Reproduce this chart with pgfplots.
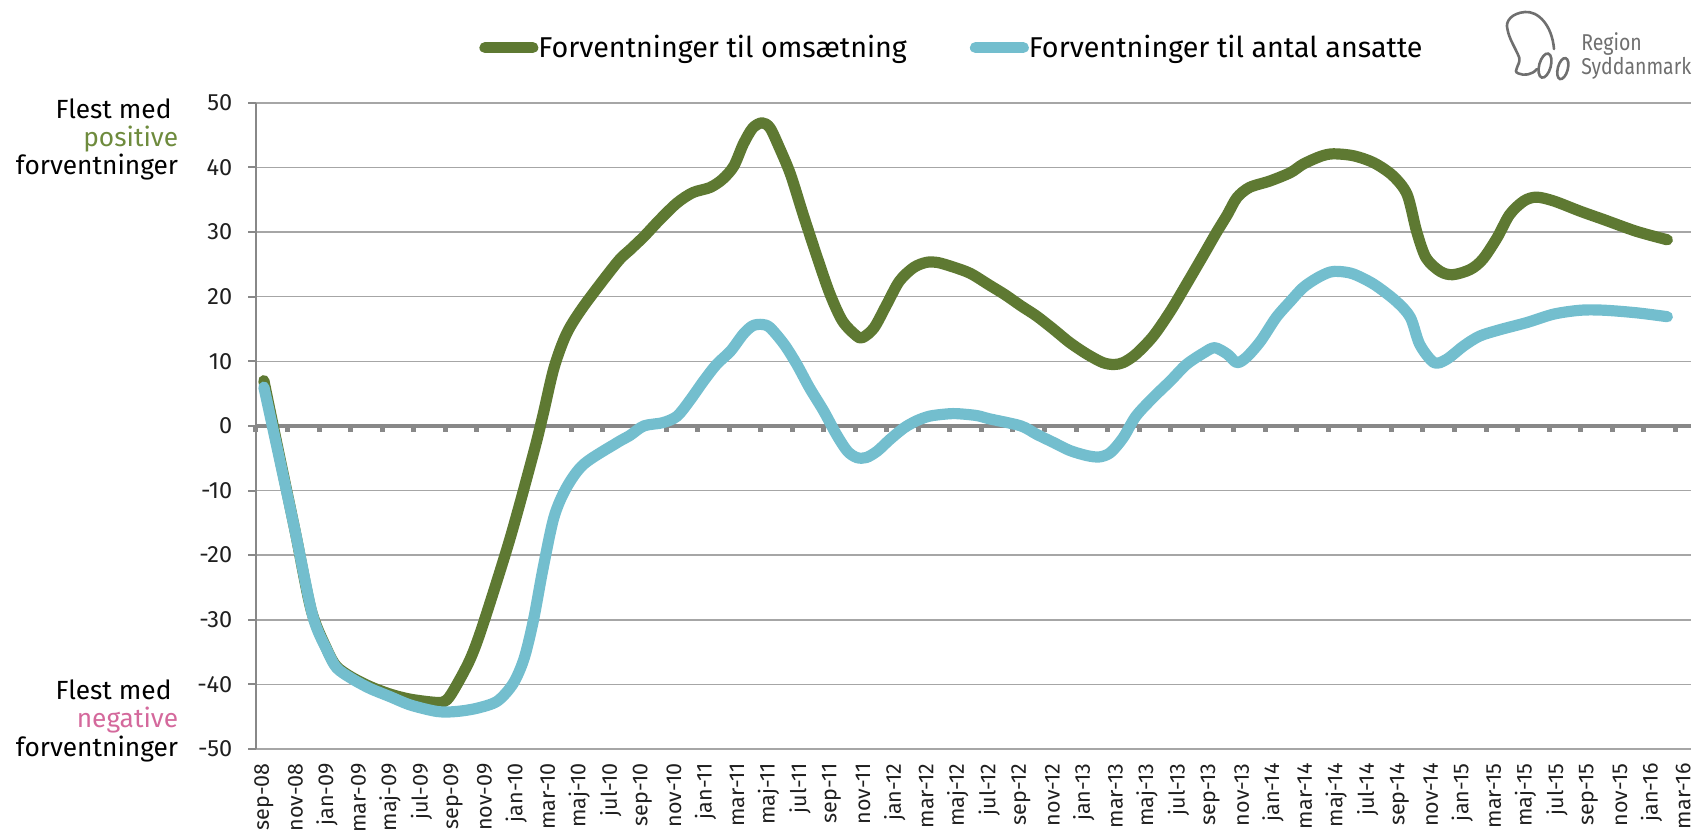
\documentclass[border=0pt]{standalone}
\usepackage{pgfplots}
\pgfplotsset{compat=1.18}
\usepackage{pgfplotstable}
\usepackage{fontspec}
\setmainfont{Fira Sans}
\newfontfamily\logofont{Fira Sans}[FakeStretch=0.85]

\definecolor{omsgreen}{HTML}{5E7932}
\definecolor{ansblue}{HTML}{73BECE}
\definecolor{gridgray}{HTML}{A6A6A6}
\definecolor{axisgray}{HTML}{888888}
\definecolor{posgreen}{HTML}{6E8B3D}
\definecolor{negpink}{HTML}{D4699C}
\definecolor{logogray}{HTML}{6F6F6F}

% x = month index from sep-08 (0) to mar-16 (90)
\pgfplotstableread{
x y
0 7
1 -4.8
2 -16.5
3 -28.5
4 -34.6
4.6 -37.2
5.5 -38.8
6.7 -40.3
8 -41.5
9.3 -42.3
11 -42.8
11.6 -42.4
12.2 -40.2
13.1 -36
13.9 -30.7
15.6 -17.5
17.1 -4.2
17.7 1.7
18.4 9.0
19.2 14.3
20.3 18.6
22.4 25.3
23.2 27.2
24.1 29.3
25.1 31.9
26.2 34.5
27.2 36.1
28.3 36.9
29.1 38.2
29.8 40.2
30.4 43.6
31.0 46.1
31.6 46.9
32.1 46.1
32.7 43.0
33.4 38.9
34.2 32.7
35.1 26.0
35.9 20.4
36.7 16.2
37.6 13.9
38.0 13.7
38.7 15.2
39.5 18.8
40.3 22.4
41.2 24.5
42.0 25.3
42.7 25.3
43.7 24.6
44.8 23.6
46.0 21.8
47.0 20.3
48.0 18.6
49.0 17.0
50.1 14.9
51.1 12.9
52.2 11.1
53.2 9.8
53.9 9.5
54.5 9.8
55.3 11.1
56.4 13.9
57.5 17.8
58.5 21.9
59.6 26.5
60.4 29.9
61.1 32.7
61.7 35.3
62.5 36.9
63.8 37.9
65.1 39.2
65.9 40.5
67.0 41.7
67.8 42.1
69.1 41.8
70.4 40.7
71.6 38.7
72.5 35.8
73.1 30.1
73.7 26.0
74.6 23.9
75.4 23.4
76.5 24.2
77.3 25.8
78.2 29.1
79.0 32.7
79.9 34.8
80.7 35.4
81.8 34.8
83.5 33.2
85.0 31.9
87.05 30.1
89 28.8
}\omsaetning

\pgfplotstableread{
x y
0 6.0
1 -5.2
2 -16.5
3.1 -29.4
4.0 -34.7
4.6 -37.4
5.5 -39.0
6.7 -40.6
8.0 -41.9
9.3 -43.2
11.0 -44.2
12.2 -44.2
13.5 -43.7
14.8 -42.6
15.8 -39.9
16.5 -36.0
17.1 -30.0
17.7 -22.1
18.4 -14.1
19.2 -9.5
20.3 -5.9
22.4 -2.6
23.2 -1.5
24.1 0
25.3 0.5
26.2 1.5
27.0 3.9
27.9 7.0
28.7 9.5
29.6 11.6
30.4 14.2
31.0 15.5
31.6 15.7
32.1 15.2
33.0 12.6
33.8 9.5
34.6 5.9
35.5 2.3
36.3 -1.3
37.0 -3.9
37.6 -4.9
38.2 -4.9
38.9 -3.9
39.7 -2.1
40.6 -0.3
41.4 0.8
42.2 1.5
43.1 1.8
43.9 1.9
45.2 1.6
46.0 1.1
48.0 0
49.0 -1.3
50.1 -2.6
51.1 -3.8
52.2 -4.6
53.0 -4.8
53.7 -4.1
54.5 -1.8
55.3 1.5
56.4 4.4
57.5 7.0
58.5 9.5
59.6 11.3
60.3 12.1
61.1 11.1
61.7 9.8
62.3 10.6
63.2 13.1
64.2 16.8
65.1 19.3
65.9 21.4
66.8 22.9
67.6 23.8
68.2 23.9
69.1 23.5
70.4 21.9
71.8 19.3
72.7 16.8
73.3 12.6
74.2 9.8
75.0 10.3
76.1 12.4
77.1 13.9
78.4 14.9
80.1 16.0
81.8 17.3
83.5 17.9
85.0 17.9
87.05 17.5
89 16.9
}\ansatte

\begin{document}
\begin{tikzpicture}
\begin{axis}[
    scale only axis,
    width=717.5bp, height=323.1bp,
    xmin=-0.5, xmax=90.5,
    ymin=-50, ymax=50,
    axis lines*=left,
    x axis line style={draw=none},
    y axis line style={draw=axisgray, line width=1bp},
    ytick={-50,-40,...,50},
    ymajorgrids,
    grid style={draw=gridgray, line width=0.75bp},
    xtick={0,2,...,90},
    xticklabels={sep-08,nov-08,jan-09,mar-09,maj-09,jul-09,sep-09,nov-09,
      jan-10,mar-10,maj-10,jul-10,sep-10,nov-10,jan-11,mar-11,maj-11,jul-11,
      sep-11,nov-11,jan-12,mar-12,maj-12,jul-12,sep-12,nov-12,jan-13,mar-13,
      maj-13,jul-13,sep-13,nov-13,jan-14,mar-14,maj-14,jul-14,sep-14,nov-14,
      jan-15,mar-15,maj-15,jul-15,sep-15,nov-15,jan-16,mar-16},
    xtick style={draw=none},
    ytick style={draw=axisgray, line width=1bp},
    tick align=outside,
    major tick length=3.8bp,
    xticklabel shift=3.2bp,
    yticklabel shift=7.9bp,
    xticklabel style={rotate=90, anchor=east, inner sep=0pt,
      font=\fontsize{10.8}{11}\selectfont, text=black!88},
    yticklabel style={inner sep=0pt, font=\fontsize{11.8}{12}\selectfont, text=black!88},
    /pgf/number format/assume math mode=true,
    legend columns=2,
    legend style={at={(0.1554,1.0854)}, anchor=west, draw=none, fill=none,
      inner sep=0pt, font=\fontsize{14.4}{15}\selectfont,
      nodes={inner sep=0pt},
      /tikz/every even column/.append style={column sep=31.5bp}},
    legend image code/.code={\draw[#1, line cap=round] (2.8bp,0bp) -- (26.7bp,0bp);},
    clip=false,
  ]
  \draw[axisgray, line width=2bp] (axis cs:-0.5,0) -- (axis cs:90.5,0);
  \pgfplotsinvokeforeach{0,...,45}{
    \fill[axisgray] (axis cs:{-0.5+2*#1},0) ++(-1.25bp,-0.5bp) rectangle ++(2.5bp,-2.5bp);
  }
  \addplot[omsgreen, line width=5.6bp, smooth, line cap=round, line join=round] table {\omsaetning};
  \addlegendentry{Forventninger til omsætning}
  \addplot[ansblue, line width=5.6bp, smooth, line cap=round, line join=round] table {\ansatte};
  \addlegendentry{Forventninger til antal ansatte}
\end{axis}

% side captions
\begin{scope}[every node/.style={anchor=base east, inner sep=0pt,
    font=\fontsize{13.2}{14}\selectfont}]
  \node at (-38.75bp,315.35bp) {Flest med\hspace*{0.25em}};
  \node[text=posgreen] at (-38.75bp,301.05bp) {positive};
  \node at (-38.75bp,287.05bp) {forventninger};
  \node at (-38.75bp,24.55bp) {Flest med\hspace*{0.25em}};
  \node[text=negpink] at (-38.75bp,10.55bp) {negative};
  \node at (-38.75bp,-3.55bp) {forventninger};
\end{scope}

% logo
\begin{scope}[logogray, line width=1.3bp, line cap=round]
  \draw (649bp,350bp) .. controls (648bp,362bp) and (641bp,369bp) .. (634.6bp,368.5bp)
        .. controls (628bp,368bp) and (624.5bp,364bp) .. (625.7bp,360bp)
        .. controls (626.5bp,355bp) and (630bp,350bp) .. (631.6bp,345.7bp)
        .. controls (632.5bp,342bp) and (628bp,339bp) .. (631.1bp,337.8bp)
        .. controls (634bp,336.5bp) and (638bp,337bp) .. (640.5bp,340bp);
  \draw[rotate around={-15:(644.5bp,341.7bp)}] (644.5bp,341.7bp) ellipse (2.9bp and 6.2bp);
  \draw[rotate around={-15:(653.4bp,340.2bp)}] (653.4bp,340.2bp) ellipse (2.5bp and 5.4bp);
  \node[anchor=base west, inner sep=0pt, font=\logofont\fontsize{11.5}{11.5}\selectfont, text=logogray]
    at (662bp,349.4bp) {Region};
  \node[anchor=base west, inner sep=0pt, font=\logofont\fontsize{11.5}{11.5}\selectfont, text=logogray]
    at (662bp,337bp) {Syddanmark};
\end{scope}

\pgfresetboundingbox
\path[use as bounding box] (-128bp,-44bp) rectangle (720.5bp,374.5bp);
\end{tikzpicture}
\end{document}
